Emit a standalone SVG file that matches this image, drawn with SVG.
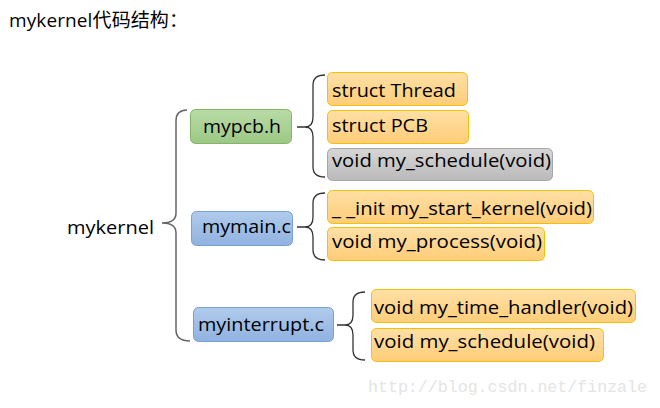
<svg xmlns="http://www.w3.org/2000/svg" width="660" height="408" viewBox="0 0 660 408">
<defs>
<linearGradient id="gOr" x1="0" y1="0" x2="0" y2="1"><stop offset="0" stop-color="#ffe0a6"/><stop offset="1" stop-color="#ffcd78"/></linearGradient>
<linearGradient id="gGr" x1="0" y1="0" x2="0" y2="1"><stop offset="0" stop-color="#b9dba6"/><stop offset="1" stop-color="#9bc884"/></linearGradient>
<linearGradient id="gBl" x1="0" y1="0" x2="0" y2="1"><stop offset="0" stop-color="#b0cbec"/><stop offset="1" stop-color="#90b2e0"/></linearGradient>
<linearGradient id="gGy" x1="0" y1="0" x2="0" y2="1"><stop offset="0" stop-color="#d6d6d6"/><stop offset="1" stop-color="#bababa"/></linearGradient>
</defs>
<style>
text{font-family:"Open Sans","Noto Sans","Liberation Sans",sans-serif;font-size:19px;fill:#000}
.or{fill:url(#gOr);stroke:#f5c000;stroke-width:1}
.gr{fill:url(#gGr);stroke:#85b46a;stroke-width:1}
.bl{fill:url(#gBl);stroke:#7aa0d2;stroke-width:1}
.gy{fill:url(#gGy);stroke:#a6a6a6;stroke-width:1}
.br{fill:none;stroke:#333;stroke-width:1.3}
.mb{fill:none;stroke:#666;stroke-width:1.5}
.wm{font-family:"Liberation Mono","DejaVu Sans Mono",monospace;font-size:16.5px;fill:#e4e4e4}
</style>
<rect width="660" height="408" fill="#fff"/>
<text x="9" y="27" textLength="179" lengthAdjust="spacing" style="font-family:'Open Sans','Noto Sans CJK SC',sans-serif;font-size:19px">mykernel代码结构：</text>
<g id="connectors">
<path class="mb" d="M187,110 Q176,110 176,121 L176,213 Q176,223 162,223 Q176,223 176,233 L176,330 Q176,341 190,341"/>
<path class="br" d="M297,127 L305,127 Q313,127 313,117 L313,85 Q313,75 325,75 M305,127 Q313,127 313,137 L313,167 Q313,177 325,177"/>
<path class="br" d="M297,227 L305,227 Q313,227 313,217 L313,203 Q313,193 325,193 M305,227 Q313,227 313,237 L313,250 Q313,260 325,260"/>
<path class="br" d="M337,325 L345,325 Q353,325 353,315 L353,302 Q353,292 365,292 M345,325 Q353,325 353,335 L353,350 Q353,360 365,360"/>
</g>
<g id="mykernel"><text x="67" y="234" textLength="87" lengthAdjust="spacingAndGlyphs">mykernel</text></g>
<g id="mypcb"><rect class="gr" x="190.5" y="109.5" width="101" height="34" rx="5"/><text x="203" y="133" textLength="78" lengthAdjust="spacingAndGlyphs">mypcb.h</text></g>
<g id="mymain"><rect class="bl" x="191.5" y="211.5" width="101" height="34" rx="5"/><text x="202" y="233" textLength="89" lengthAdjust="spacingAndGlyphs">mymain.c</text></g>
<g id="myinterrupt"><rect class="bl" x="193.5" y="307.5" width="140" height="34" rx="5"/><text x="198" y="331" textLength="126" lengthAdjust="spacingAndGlyphs">myinterrupt.c</text></g>
<g id="thread"><rect class="or" x="327.5" y="72.5" width="140" height="33" rx="5"/><text x="332" y="97" textLength="124" lengthAdjust="spacingAndGlyphs">struct Thread</text></g>
<g id="pcb"><rect class="or" x="327.5" y="110.5" width="141" height="33" rx="5"/><text x="332" y="132" textLength="96" lengthAdjust="spacingAndGlyphs">struct PCB</text></g>
<g id="schedule1"><rect class="gy" x="327.5" y="148.5" width="225" height="32" rx="5"/><text x="332" y="167" textLength="219" lengthAdjust="spacingAndGlyphs">void my_schedule(void)</text></g>
<g id="startkernel"><rect class="or" x="327.5" y="190.5" width="266" height="33" rx="5"/><text x="332" y="215" textLength="260" lengthAdjust="spacingAndGlyphs">_ _init my_start_kernel(void)</text></g>
<g id="process"><rect class="or" x="327.5" y="227.5" width="217" height="33" rx="5"/><text x="332" y="248" textLength="210" lengthAdjust="spacingAndGlyphs">void my_process(void)</text></g>
<g id="timehandler"><rect class="or" x="371.5" y="289.5" width="264" height="33" rx="5"/><text x="374" y="314" textLength="259" lengthAdjust="spacingAndGlyphs">void my_time_handler(void)</text></g>
<g id="schedule2"><rect class="or" x="371.5" y="328.5" width="232" height="33" rx="5"/><text x="374" y="348" textLength="221" lengthAdjust="spacingAndGlyphs">void my_schedule(void)</text></g>
<text class="wm" x="368" y="392" textLength="279" lengthAdjust="spacingAndGlyphs">http://blog.csdn.net/finzale</text>
</svg>
